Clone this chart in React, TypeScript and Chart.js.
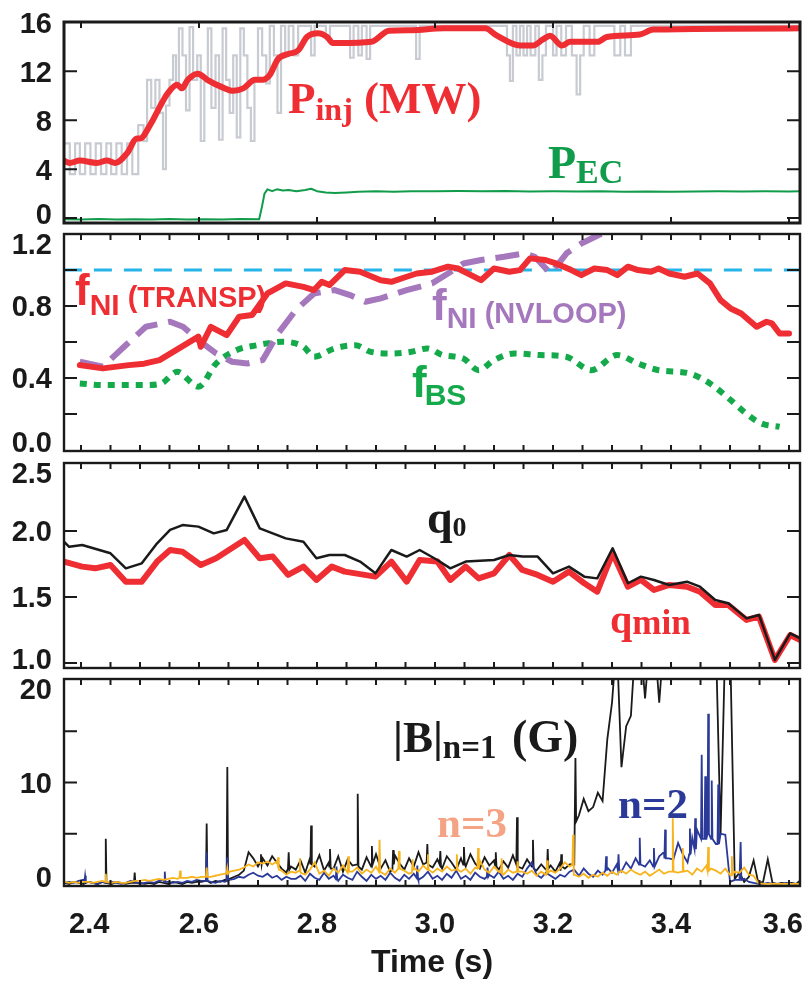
import React, { useEffect, useRef } from "react";
import { Chart, registerables } from "chart.js";

Chart.register(...registerables);

// ---------- styling constants ----------
const INK = "#1a1a1a";
const RED = "#ee2e33";
const GRAY = "#c8cbd2";
const GREEN_EC = "#109c4a";
const CYAN = "#27b4e8";
const PURPLE = "#a578bd";
const GREEN_BS = "#14aa4b";
const NAVY = "#2b3a98";
const ORANGE = "#f8b41e";
const SALMON = "#f5a385";

const SANS = '"Liberation Sans", Arial, Helvetica, sans-serif';
const SERIF = '"Liberation Serif", "Times New Roman", Times, serif';
const TICK_SIZE = 29;
const CAP = 0.716 * TICK_SIZE;

const X_MIN = 2.3712;
const X_MAX = 3.6186;
const PLOT_LEFT = 64;
const PLOT_RIGHT = 800;
const PAGE_W = 807;

// ---------- tick labels ----------
const timeTickLabels = [2.4, 2.6, 2.8, 3.0, 3.2, 3.4, 3.6];
const p1YLabels = [0, 4, 8, 12, 16];
const p2YLabels = [0.0, 0.4, 0.8, 1.2];
const p3YLabels = [1.0, 1.5, 2.0, 2.5];
const p4YLabels = [0, 10, 20];

// ---------- panel 1: injected power ----------
const pinj = [
  [2.371, 4.7], [2.381, 4.5], [2.398, 4.7], [2.427, 4.5], [2.444, 4.7], [2.458, 4.5],
  [2.478, 5.3], [2.495, 6.5], [2.5, 6.5], [2.517, 7.6], [2.537, 9.4], [2.547, 10.2],
  [2.563, 10.9], [2.571, 10.6], [2.581, 11.3], [2.598, 11.8], [2.614, 11.3], [2.639, 10.7],
  [2.658, 10.4], [2.675, 10.6], [2.695, 11.3], [2.708, 11.3], [2.72, 11.7], [2.734, 13.0],
  [2.751, 13.4], [2.768, 13.7], [2.783, 14.8], [2.802, 15.1], [2.817, 14.8], [2.827, 14.3],
  [2.839, 14.3], [2.892, 14.4], [2.922, 15.3], [2.961, 15.35], [3.014, 15.5], [3.085, 15.5],
  [3.105, 14.9], [3.144, 14.1], [3.166, 14.1], [3.183, 14.6], [3.195, 14.9], [3.215, 14.1],
  [3.229, 14.4], [3.276, 14.4], [3.291, 14.8], [3.347, 15.0], [3.37, 15.4], [3.619, 15.5],
];

const beamPower = [
  [2.371, 6.1], [2.381, 3.6], [2.39, 6.1], [2.398, 3.6], [2.407, 6.1], [2.416, 3.6], [2.425, 6.1],
  [2.434, 3.6], [2.443, 6.1], [2.451, 3.6], [2.46, 6.1], [2.469, 3.6], [2.478, 6.1], [2.487, 3.6],
  [2.497, 7.6], [2.506, 6.3], [2.512, 11.3], [2.519, 9.0], [2.526, 11.3], [2.533, 8.6], [2.539, 4.0],
  [2.544, 9.2], [2.55, 11.3], [2.556, 13.3], [2.561, 10.8], [2.566, 15.5], [2.572, 13.3], [2.578, 8.8],
  [2.584, 15.6], [2.59, 11.3], [2.597, 13.3], [2.603, 6.3], [2.609, 11.3], [2.615, 15.5], [2.621, 9.0],
  [2.628, 13.3], [2.634, 6.4], [2.64, 15.5], [2.646, 11.3], [2.652, 8.6], [2.658, 13.3], [2.664, 6.6],
  [2.67, 15.5], [2.676, 13.3], [2.682, 9.0], [2.688, 6.3], [2.694, 11.3], [2.7, 15.5], [2.707, 13.3],
  [2.714, 11.0], [2.72, 15.7], [2.727, 13.3], [2.733, 8.6], [2.739, 15.7], [2.746, 13.3], [2.752, 15.7],
  [2.76, 13.3], [2.768, 15.7], [2.79, 13.3], [2.796, 15.7], [2.815, 14.6], [2.822, 15.7], [2.856, 13.1],
  [2.862, 15.7], [2.87, 13.3], [2.876, 15.7], [2.884, 13.0], [2.89, 15.7], [2.968, 13.0], [2.974, 15.7],
  [3.122, 13.3], [3.127, 11.2], [3.132, 15.7], [3.138, 13.3], [3.144, 15.7], [3.15, 13.3], [3.156, 15.7],
  [3.162, 13.3], [3.17, 15.7], [3.176, 11.3], [3.182, 13.3], [3.188, 15.7], [3.2, 13.3], [3.206, 15.7],
  [3.214, 13.3], [3.222, 15.7], [3.232, 13.3], [3.24, 10.1], [3.246, 13.3], [3.252, 15.7], [3.262, 13.3],
  [3.27, 15.7], [3.304, 13.3], [3.314, 15.7], [3.322, 13.3], [3.332, 15.7], [3.619, 15.7],
];

const pec = [
  [2.371, -0.1], [2.4, -0.12], [2.43, -0.08], [2.46, -0.12], [2.49, -0.1], [2.52, -0.12], [2.55, -0.08],
  [2.58, -0.12], [2.61, -0.1], [2.64, -0.12], [2.67, -0.08], [2.702, -0.1], [2.707, 1.0], [2.711, 2.0],
  [2.716, 2.35], [2.724, 2.2], [2.732, 2.35], [2.742, 2.25], [2.752, 2.3], [2.765, 2.2], [2.78, 2.3],
  [2.79, 2.4], [2.8, 2.2], [2.815, 2.1], [2.83, 2.05], [2.85, 2.1], [2.87, 2.15], [2.9, 2.2], [2.93, 2.15],
  [2.96, 2.2], [3.0, 2.2], [3.04, 2.22], [3.08, 2.2], [3.12, 2.22], [3.16, 2.18], [3.2, 2.2], [3.24, 2.18],
  [3.28, 2.2], [3.32, 2.15], [3.36, 2.18], [3.4, 2.15], [3.44, 2.18], [3.48, 2.2], [3.52, 2.18],
  [3.56, 2.2], [3.6, 2.18], [3.619, 2.2],
];

// ---------- panel 2: current fractions ----------
const fniTransp = [
  [2.398, 0.472], [2.437, 0.454], [2.481, 0.472], [2.507, 0.48], [2.533, 0.5], [2.599, 0.63],
  [2.603, 0.574], [2.62, 0.685], [2.647, 0.639], [2.668, 0.741], [2.69, 0.75], [2.716, 0.87],
  [2.747, 0.926], [2.777, 0.907], [2.795, 0.889], [2.808, 0.935], [2.821, 0.917], [2.847, 1.0],
  [2.873, 0.991], [2.908, 0.944], [2.926, 0.935], [2.952, 0.963], [2.969, 0.981], [2.995, 0.991],
  [3.022, 1.019], [3.039, 1.009], [3.061, 0.972], [3.078, 0.944], [3.1, 1.009], [3.126, 0.991],
  [3.144, 1.0], [3.161, 1.065], [3.187, 1.056], [3.205, 1.037], [3.231, 1.0], [3.248, 0.972],
  [3.27, 1.009], [3.292, 1.0], [3.309, 0.972], [3.327, 1.019], [3.344, 1.0], [3.366, 0.991],
  [3.379, 1.009], [3.397, 0.981], [3.423, 0.963], [3.445, 0.981], [3.466, 0.926], [3.484, 0.833],
  [3.501, 0.787], [3.519, 0.759], [3.545, 0.685], [3.562, 0.713], [3.571, 0.704], [3.584, 0.648],
  [3.6, 0.648],
];

const fniNvloop = [
  [2.398, 0.491], [2.437, 0.463], [2.473, 0.574], [2.51, 0.685], [2.551, 0.713], [2.573, 0.685],
  [2.599, 0.611], [2.629, 0.537], [2.656, 0.491], [2.682, 0.481], [2.708, 0.5], [2.734, 0.648],
  [2.764, 0.778], [2.795, 0.87], [2.83, 0.889], [2.856, 0.861], [2.882, 0.824], [2.908, 0.843],
  [2.952, 0.889], [2.995, 0.926], [3.022, 0.981], [3.048, 1.037], [3.078, 1.056], [3.117, 1.074],
  [3.152, 1.093], [3.169, 1.074], [3.196, 0.981], [3.223, 1.093], [3.248, 1.148], [3.283, 1.204],
  [3.3, 1.25],
];

const fbs = [
  [2.398, 0.37], [2.437, 0.361], [2.51, 0.361], [2.536, 0.37], [2.563, 0.435], [2.599, 0.352],
  [2.629, 0.481], [2.664, 0.556], [2.699, 0.583], [2.742, 0.602], [2.777, 0.574], [2.795, 0.519],
  [2.83, 0.565], [2.865, 0.583], [2.891, 0.546], [2.926, 0.537], [2.96, 0.546], [2.987, 0.565],
  [3.013, 0.528], [3.048, 0.509], [3.074, 0.444], [3.1, 0.5], [3.135, 0.537], [3.178, 0.528],
  [3.222, 0.519], [3.265, 0.444], [3.309, 0.528], [3.344, 0.481], [3.379, 0.444], [3.431, 0.426],
  [3.466, 0.37], [3.501, 0.278], [3.527, 0.204], [3.553, 0.148], [3.584, 0.13],
];

const unityLine = [[2.371, 1.0], [3.619, 1.0]];

// ---------- panel 3: safety factor ----------
const q0 = [
  [2.371, 1.92], [2.38, 1.88], [2.402, 1.894], [2.45, 1.831], [2.476, 1.717], [2.503, 1.755],
  [2.529, 1.907], [2.551, 2.008], [2.572, 2.045], [2.599, 2.033], [2.625, 1.982], [2.647, 2.008],
  [2.677, 2.26], [2.703, 2.02], [2.725, 1.982], [2.747, 1.944], [2.777, 1.919], [2.799, 1.793],
  [2.821, 1.818], [2.847, 1.818], [2.873, 1.768], [2.899, 1.679], [2.926, 1.856], [2.952, 1.806],
  [2.974, 1.856], [3.004, 1.78], [3.026, 1.717], [3.052, 1.768], [3.1, 1.78], [3.126, 1.818],
  [3.148, 1.806], [3.174, 1.806], [3.2, 1.679], [3.227, 1.73], [3.253, 1.654], [3.275, 1.641],
  [3.301, 1.869], [3.327, 1.604], [3.349, 1.654], [3.371, 1.629], [3.397, 1.591], [3.427, 1.616],
  [3.449, 1.578], [3.475, 1.477], [3.497, 1.452], [3.528, 1.338], [3.549, 1.364], [3.576, 1.023],
  [3.602, 1.225], [3.619, 1.187],
];

const qmin = [
  [2.371, 1.768], [2.402, 1.73], [2.424, 1.717], [2.45, 1.742], [2.476, 1.616], [2.503, 1.616],
  [2.529, 1.768], [2.551, 1.856], [2.572, 1.843], [2.603, 1.742], [2.629, 1.793], [2.677, 1.932],
  [2.703, 1.793], [2.725, 1.806], [2.751, 1.667], [2.777, 1.73], [2.799, 1.629], [2.825, 1.73],
  [2.847, 1.692], [2.899, 1.654], [2.926, 1.768], [2.952, 1.616], [2.974, 1.78], [3.004, 1.768],
  [3.026, 1.629], [3.052, 1.73], [3.074, 1.641], [3.1, 1.679], [3.126, 1.818], [3.148, 1.705],
  [3.174, 1.667], [3.2, 1.616], [3.227, 1.692], [3.253, 1.604], [3.275, 1.54], [3.301, 1.831],
  [3.327, 1.578], [3.349, 1.629], [3.371, 1.553], [3.397, 1.591], [3.427, 1.578], [3.449, 1.54],
  [3.475, 1.439], [3.497, 1.439], [3.528, 1.326], [3.549, 1.351], [3.576, 1.023], [3.602, 1.212],
  [3.619, 1.174],
];

// ---------- panel 4: magnetic perturbation amplitudes (G) ----------
// sampled every 0.008 s starting at 2.372 s
const MODE_T0 = 2.372;
const MODE_DT = 0.008;

const bN1 = [
  0.2, 0.1, 0.3, 0.2, 0.1, 0.3, 0.2, 0.1, 0.3, 0.2, 0.1, 0.3, 0.2, 0.1, 0.2, 0.6, 0.2, 0.1, 0.2, 0.1,
  0.3, 0.2, 0.1, 0.3, 0.2, 0.1, 0.3, 0.2, 0.3,
  0.3, 0.5, 0.2, 0.4, 0.3, 0.5, 0.6, 0.8, 1.0, 1.4, 3.2, 2.6, 1.8,
  2.6, 1.9, 2.8, 2.2, 1.6, 1.2, 1.8,
  1.5, 2.4, 1.2, 2.6, 1.8, 2.9, 1.4, 2.2, 1.6, 2.8, 1.3, 2.5, 1.9, 2.3, 1.5, 2.7, 1.8, 3.0, 1.6, 2.4,
  1.3, 2.9, 2.1, 1.5, 2.6, 1.8, 3.2, 2.0, 3.6, 1.7, 2.5, 1.6, 2.8, 2.2, 1.5, 2.6, 1.8, 3.0, 2.1, 1.6,
  2.7, 1.9, 2.4, 1.5, 2.3, 1.7, 2.9, 2.0, 1.6, 2.5, 1.8, 1.4, 2.0, 1.5, 1.9, 1.3, 2.2, 1.6, 2.0,
  2.0, 6.8, 8.4, 7.2, 7.6, 9.0, 8.2, 14.2, 17.8, 24, 11.5, 15.5, 16.5, 24, 24, 18.2, 24, 24, 17.8, 24,
  24, 24, 24, 24, 24, 24, 24, 24, 24, 24, 24,
  5.0,
  24, 24,
  0.6, 1.2, 0.3, 0.8, 2.4, 0.2, 0.3, 2.5, 0.2, 0.1, 0.2, 0.1, 0.2, 0.1, 0.5,
];

const bN2 = [
  0.2, 0.3, 0.2, 0.4, 0.5, 0.3, 0.2, 0.1, 0.3, 0.2, 0.3, 0.2, 0.1, 0.2, 0.4, 0.3, 0.1, 0.2, 0.3, 0.2,
  0.4, 0.5, 0.3, 0.2, 0.3, 0.2, 0.4, 0.3, 0.5,
  0.4, 0.5, 0.3, 0.2, 0.4, 0.3, 0.5, 0.6, 0.8, 0.7, 1.0, 1.2, 0.9,
  0.8, 1.1, 0.7, 0.9, 0.5, 0.8, 0.6,
  0.6, 0.9, 0.4, 1.1, 0.7, 0.5, 1.2, 0.6, 0.9, 0.4, 1.0, 0.7, 0.5, 1.3, 0.8, 0.4, 1.0, 0.6, 0.9, 0.5,
  1.2, 0.7, 0.4, 1.0, 0.6, 1.1, 0.5, 0.8, 1.3, 0.6, 0.9, 0.5, 1.1, 0.7, 1.4, 0.6, 0.9, 0.5, 1.2, 0.8,
  0.6, 1.0, 0.7, 1.3, 0.6, 0.9, 0.5, 1.1, 0.8, 1.6, 2.2, 1.0, 0.7, 1.2, 0.9, 0.6, 1.0, 0.8, 1.3,
  1.5, 0.9, 1.6, 1.1, 0.8, 1.4, 1.0, 1.7, 1.2, 2.0, 1.3, 2.2, 1.6, 2.6, 2.0, 1.8, 2.4, 1.5, 2.8, 3.2,
  2.6, 2.5, 4.1, 3.0, 2.2, 4.6, 5.4, 5.0, 4.5, 6.0, 4.0, 5.0, 4.9, 0.3,
  0.5, 0.5, 0.6, 0.3, 0.2, 0.1, 0.1, 0.2, 0.1, 0.1, 0.1, 0.2, 0.1, 0.1, 0.1,
];

const bN3 = [
  0.3, 0.2, 0.3, 0.2, 0.3, 0.3, 0.2, 0.3, 0.4, 0.3, 0.2, 0.3, 0.2, 0.2, 0.3, 0.4, 0.4, 0.5, 0.4, 0.5,
  0.6, 0.5, 0.6, 0.7, 0.6, 0.7, 0.7, 0.8, 0.7,
  0.8, 0.9, 0.8, 0.9, 1.0, 1.1, 1.3, 1.4, 1.5, 1.7, 2.0, 1.8, 2.2,
  2.1, 2.3, 2.0, 2.3, 1.4, 1.0, 1.3,
  1.2, 1.6, 1.0, 1.5, 2.2, 1.1, 1.4, 0.9, 1.6, 1.2, 1.9, 1.0, 1.3, 1.7, 1.1, 1.5, 1.2, 1.8, 1.3, 1.0,
  1.6, 1.2, 2.0, 1.4, 1.1, 1.7, 1.3, 1.9, 1.5, 1.2, 1.6, 1.3, 1.8, 1.4, 2.2, 1.3, 1.6, 1.1, 1.7, 2.4,
  1.5, 1.2, 1.8, 1.3, 1.0, 1.5, 1.2, 1.9, 1.3, 1.1, 1.4, 0.9, 1.3, 1.0, 1.4, 1.2, 1.6, 2.2, 1.8,
  1.0, 0.8, 1.1, 0.7, 1.0, 0.8, 1.2, 0.9, 1.3, 1.0, 1.4, 1.1, 1.5, 1.2, 1.0, 1.3, 0.9, 1.2, 1.5, 1.1,
  1.3, 2.0, 1.2, 1.4, 1.4, 1.0, 1.6, 1.3, 1.9, 1.6, 1.4, 1.1, 1.6, 1.0, 1.3, 1.2, 1.7, 1.0, 0.9,
  0.2, 0.1, 0.1, 0.1, 0.1, 0.1, 0.1, 0.1, 0.1, 0.1,
];

// spikes: [time, peak, value just before, value just after]
const bN1Spikes = [
  [2.442, 4.5, 0.2, 0.2], [2.491, 1.2, 0.2, 0.2], [2.613, 6.0, 0.4, 0.4], [2.648, 11.5, 0.4, 0.5],
  [2.705, 3.0, 2.2, 2.0], [2.752, 3.2, 1.6, 1.5], [2.79, 5.8, 2.0, 2.0], [2.822, 3.5, 1.8, 1.6],
  [2.869, 8.9, 2.0, 1.8], [2.893, 3.8, 1.8, 2.0], [2.929, 3.4, 1.5, 2.0], [2.987, 4.0, 2.2, 2.0],
  [3.009, 3.3, 2.0, 1.8], [3.049, 3.7, 2.0, 2.2], [3.103, 3.2, 1.9, 1.8], [3.139, 6.6, 2.0, 1.8],
  [3.166, 4.4, 1.8, 1.6], [3.191, 3.5, 1.5, 1.6], [3.214, 3.0, 1.4, 1.8], [3.238, 12.4, 2.0, 6.2],
];
const bN2Spikes = [
  [2.407, 0.9, 0.3, 0.3], [2.542, 1.3, 0.3, 0.3], [2.613, 3.2, 0.4, 0.4], [2.648, 2.7, 0.4, 0.5],
  [2.833, 1.8, 0.6, 0.6], [2.97, 1.9, 0.7, 0.7], [3.089, 1.7, 0.8, 0.8], [3.29, 2.8, 1.4, 1.4],
  [3.311, 3.0, 1.5, 1.5], [3.347, 4.6, 2.0, 2.0], [3.371, 3.6, 1.8, 1.8], [3.39, 5.4, 2.6, 2.6],
  [3.432, 5.5, 3.0, 3.0], [3.441, 6.5, 3.5, 3.5], [3.452, 12.7, 4.5, 4.5], [3.458, 10.6, 4.5, 4.5],
  [3.463, 16.7, 5.0, 5.0], [3.469, 10.2, 4.5, 4.5], [3.48, 9.8, 4.0, 4.0], [3.518, 4.2, 0.5, 0.5],
];
const bN3Spikes = [
  [2.442, 1.1, 0.3, 0.3], [2.568, 1.4, 0.7, 0.7], [2.613, 1.7, 0.8, 0.8], [2.648, 1.6, 1.1, 1.1],
  [2.734, 2.7, 2.1, 1.5], [2.771, 2.6, 1.4, 1.2], [2.853, 2.8, 1.2, 1.3], [2.906, 4.4, 1.3, 1.3],
  [2.939, 3.3, 1.6, 1.6], [2.962, 2.5, 1.2, 1.5], [2.988, 3.0, 1.5, 1.5], [3.037, 3.0, 1.5, 1.5],
  [3.073, 3.6, 1.6, 1.6], [3.113, 2.6, 1.2, 1.1], [3.14, 2.3, 1.3, 1.3], [3.19, 2.4, 1.0, 1.2],
  [3.234, 4.9, 2.0, 1.0], [3.403, 6.5, 1.3, 1.3], [3.42, 3.6, 1.3, 1.3], [3.463, 3.7, 1.4, 1.4],
  [3.503, 2.8, 1.0, 1.0],
];

// ---------- helpers ----------
const pts = (arr) => arr.map(([x, y]) => ({ x, y }));

function modeSeries(grid, spikes) {
  const out = [];
  grid.forEach((v, i) => {
    const t = MODE_T0 + MODE_DT * i;
    if (!spikes.some((s) => Math.abs(s[0] - t) < 0.0017)) out.push({ x: t, y: v });
  });
  spikes.forEach(([t, p, l, r]) => {
    out.push({ x: t - 0.0012, y: l }, { x: t, y: p }, { x: t + 0.0012, y: r });
  });
  out.sort((a, b) => a.x - b.x);
  return out;
}

const line = (data, color, width, extra = {}) => ({
  data,
  borderColor: color,
  backgroundColor: color,
  borderWidth: width,
  pointRadius: 0,
  fill: false,
  tension: 0,
  borderJoinStyle: "round",
  borderCapStyle: "round",
  ...extra,
});

// ---------- panels ----------
const PANELS = [
  {
    ct: 0, ch: 227, top: 22, bottom: 223,
    yMin: -0.4, yMax: 16.02, yStep: 4, yLabels: p1YLabels, fmt: (v) => String(Math.round(v)),
    xStep: 0.2, frameWidth: 3, clampTop: false, bottomAxis: false,
    datasets: () => [
      line(pts(pinj), RED, 6, { cubicInterpolationMode: "monotone" }),
      line(pts(pec), GREEN_EC, 2),
      line(pts(beamPower), GRAY, 2.2, { stepped: true, borderJoinStyle: "miter", borderCapStyle: "butt" }),
    ],
    anns: [
      { t: 2.7508, v: 8.571, color: RED, family: SERIF,
        parts: [{ text: "P", size: 45 }, { text: "inj", size: 32, dy: 7 }, { text: " (MW)", size: 45 }] },
      { t: 3.1915, v: 3.265, color: GREEN_EC, family: SERIF,
        parts: [{ text: "P", size: 46 }, { text: "EC", size: 34, dy: 5 }] },
    ],
  },
  {
    ct: 227, ch: 229, top: 234, bottom: 451,
    yMin: -0.005, yMax: 1.2005, yStep: 0.2, yLabels: p2YLabels, fmt: (v) => v.toFixed(1),
    xStep: 0.05, frameWidth: 2.4, clampTop: true, bottomAxis: false,
    datasets: () => [
      line(pts(fniTransp), RED, 6),
      line(pts(fniNvloop), PURPLE, 6, { borderDash: [24, 11], borderCapStyle: "butt" }),
      line(pts(fbs), GREEN_BS, 6, { borderDash: [7, 7], borderCapStyle: "butt", cubicInterpolationMode: "monotone" }),
      line(pts(unityLine), CYAN, 3, { borderDash: [18, 12], borderCapStyle: "butt" }),
    ],
    anns: [
      { t: 2.3898, v: 0.8056, color: RED, family: SANS,
        parts: [{ text: "f", size: 44 }, { text: "NI", size: 30, dy: 10 }, { text: " (TRANSP)", size: 29, dy: 2 }] },
      { t: 2.9949, v: 0.7222, color: PURPLE, family: SANS,
        parts: [{ text: "f", size: 44 }, { text: "NI", size: 30, dy: 8 }, { text: " (NVLOOP)", size: 29, dy: 3 }] },
      { t: 2.961, v: 0.2944, color: GREEN_BS, family: SANS,
        parts: [{ text: "f", size: 44 }, { text: "BS", size: 30, dy: 8, dx: -2 }] },
    ],
  },
  {
    ct: 456, ch: 217, top: 463, bottom: 668,
    yMin: 0.962, yMax: 2.515, yStep: 0.5, yLabels: p3YLabels, fmt: (v) => v.toFixed(1),
    xStep: 0.05, frameWidth: 2.4, clampTop: true, bottomAxis: false,
    datasets: () => [
      line(pts(q0), INK, 2.5),
      line(pts(qmin), RED, 6),
    ],
    anns: [
      { t: 2.9864, v: 1.985, color: INK, family: SERIF,
        parts: [{ text: "q", size: 46 }, { text: "0", size: 28, dy: 3 }] },
      { t: 3.2966, v: 1.227, color: RED, family: SERIF,
        parts: [{ text: "q", size: 40 }, { text: "min", size: 35, dy: 1 }] },
    ],
  },
  {
    ct: 673, ch: 311, top: 679, bottom: 886,
    yMin: -0.1, yMax: 20.1, yStep: 5, yLabels: p4YLabels, fmt: (v) => String(Math.round(v)),
    xStep: 0.05, frameWidth: 2.4, clampTop: true, bottomAxis: true,
    datasets: () => [
      line(modeSeries(bN3, bN3Spikes), ORANGE, 1.8, { borderJoinStyle: "miter" }),
      line(modeSeries(bN2, bN2Spikes), NAVY, 1.8, { borderJoinStyle: "miter" }),
      line(modeSeries(bN1, bN1Spikes), INK, 1.8, { borderJoinStyle: "miter" }),
    ],
    anns: [
      { t: 2.9288, v: 12.98, color: INK, family: SERIF,
        parts: [{ text: "|B|", size: 45 }, { text: "n=1", size: 33, dy: 6 }, { text: " (G)", size: 46, dx: 4 }] },
      { t: 3.0034, v: 4.68, color: SALMON, family: SERIF, parts: [{ text: "n=3", size: 43 }] },
      { t: 3.3102, v: 6.54, color: NAVY, family: SERIF, parts: [{ text: "n=2", size: 43 }] },
    ],
  },
];

const near = (a, b) => Math.abs(a - b) < 1e-6;

function decor(p) {
  return {
    id: "panelDecor",
    afterDatasetsDraw(chart) {
      const { ctx, chartArea: a, scales } = chart;
      const xs = scales.x;
      const ys = scales.y;
      ctx.save();
      ctx.strokeStyle = INK;
      ctx.lineWidth = 2;
      ctx.lineCap = "butt";
      ctx.beginPath();
      xs.ticks.forEach((tk) => {
        const px = xs.getPixelForValue(tk.value);
        if (px < a.left + 2 || px > a.right - 2) return;
        ctx.moveTo(px, a.bottom);
        ctx.lineTo(px, a.bottom - 6);
        ctx.moveTo(px, a.top);
        ctx.lineTo(px, a.top + 6);
      });
      ys.ticks.forEach((tk) => {
        const py = ys.getPixelForValue(tk.value);
        if (py < a.top + 2 || py > a.bottom - 2) return;
        ctx.moveTo(a.left, py);
        ctx.lineTo(a.left + 13, py);
        ctx.moveTo(a.right, py);
        ctx.lineTo(a.right - 13, py);
      });
      ctx.stroke();
      ctx.lineWidth = p.frameWidth;
      ctx.strokeRect(a.left, a.top, a.right - a.left, a.bottom - a.top);
      ctx.restore();
    },
    afterDraw(chart) {
      const { ctx, chartArea: a, scales } = chart;
      const xs = scales.x;
      const ys = scales.y;
      ctx.save();
      // y tick labels
      ctx.font = `bold ${TICK_SIZE}px ${SANS}`;
      ctx.fillStyle = INK;
      ctx.textAlign = "right";
      ctx.textBaseline = "alphabetic";
      ys.ticks.forEach((tk) => {
        if (!p.yLabels.some((l) => near(l, tk.value))) return;
        const py = ys.getPixelForValue(tk.value);
        let base = py + CAP / 2;
        if (p.clampTop && base - CAP < a.top - 1) base = a.top - 1 + CAP;
        if (base > a.bottom + 1) base = a.bottom + 1;
        ctx.fillText(p.fmt(tk.value), a.left - 12, base);
      });
      // x tick labels + title
      if (p.bottomAxis) {
        ctx.textAlign = "left";
        timeTickLabels.forEach((v) => {
          const txt = v.toFixed(1);
          const w = ctx.measureText(txt).width;
          let cx = xs.getPixelForValue(v);
          if (cx - w / 2 < a.left + 5) cx = a.left + 5 + w / 2;
          if (cx + w / 2 > a.right + 3) cx = a.right + 3 - w / 2;
          ctx.fillText(txt, cx - w / 2, a.bottom + 47);
        });
        ctx.font = `bold 32px ${SANS}`;
        ctx.textAlign = "center";
        ctx.fillText("Time (s)", (a.left + a.right) / 2, a.bottom + 86);
      }
      // annotations
      ctx.textAlign = "left";
      p.anns.forEach((an) => {
        let x = xs.getPixelForValue(an.t);
        const y = ys.getPixelForValue(an.v);
        ctx.fillStyle = an.color;
        an.parts.forEach((pt) => {
          ctx.font = `bold ${pt.size}px ${an.family}`;
          x += pt.dx || 0;
          ctx.fillText(pt.text, x, y + (pt.dy || 0));
          x += ctx.measureText(pt.text).width;
        });
      });
      ctx.restore();
    },
  };
}

function makeChart(canvas, p) {
  return new Chart(canvas, {
    type: "line",
    data: { datasets: p.datasets() },
    options: {
      responsive: false,
      animation: false,
      events: [],
      layout: {
        padding: { left: 0, right: PAGE_W - PLOT_RIGHT, top: p.top - p.ct, bottom: p.ct + p.ch - p.bottom },
      },
      plugins: { legend: { display: false }, tooltip: { enabled: false } },
      scales: {
        x: {
          type: "linear",
          min: X_MIN,
          max: X_MAX,
          ticks: { display: false, stepSize: p.xStep, includeBounds: false, autoSkip: false },
          grid: { display: false },
          border: { display: false },
          afterFit: (s) => { s.height = 0; },
        },
        y: {
          type: "linear",
          min: p.yMin,
          max: p.yMax,
          ticks: { display: false, stepSize: p.yStep, includeBounds: false, autoSkip: false },
          grid: { display: false },
          border: { display: false },
          afterFit: (s) => { s.width = PLOT_LEFT; },
        },
      },
    },
    plugins: [decor(p)],
  });
}

export default function App() {
  const r0 = useRef(null);
  const r1 = useRef(null);
  const r2 = useRef(null);
  const r3 = useRef(null);
  const refs = [r0, r1, r2, r3];

  useEffect(() => {
    const charts = PANELS.map((p, i) => makeChart(refs[i].current, p));
    return () => charts.forEach((c) => c.destroy());
  }, []);

  return (
    <div style={{ position: "absolute", left: 0, top: 0, width: PAGE_W, height: 984, background: "#fff" }}>
      {PANELS.map((p, i) => (
        <canvas
          key={i}
          ref={refs[i]}
          width={PAGE_W}
          height={p.ch}
          style={{ position: "absolute", left: 0, top: p.ct, width: PAGE_W, height: p.ch, display: "block" }}
        />
      ))}
    </div>
  );
}
